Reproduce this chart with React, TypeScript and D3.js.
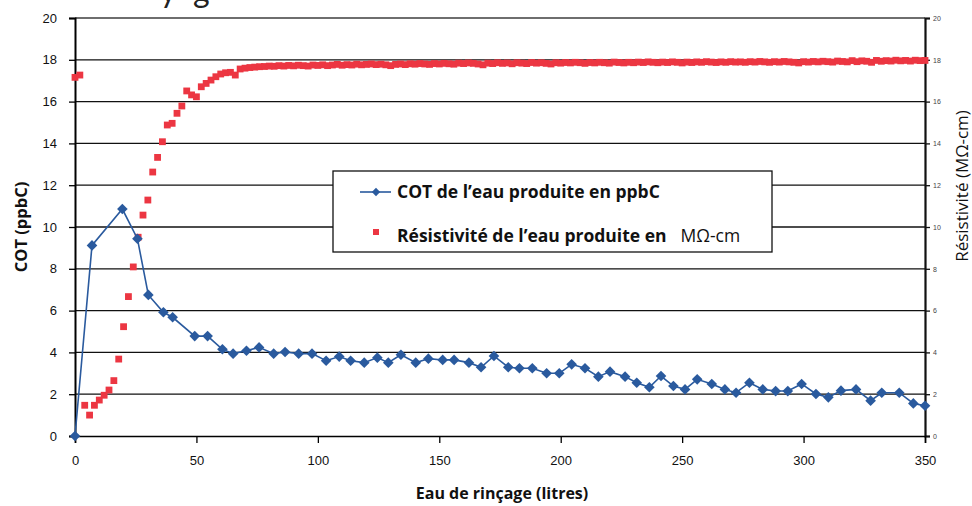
import { useEffect, useRef } from 'react';
import * as d3 from 'd3';

// COT (ppbC) de l'eau produite
const cotVolumes = [
  0, 7, 19.5, 25.7, 30.2, 36.4, 40.2, 49.3, 54.6, 60.7,
  65.1, 70.6, 75.8, 81.8, 86.5, 92.1, 97.6, 103.4, 108.8, 113.5,
  119.1, 124.5, 129.0, 134.2, 140.3, 145.5, 151.4, 156.1, 162.2, 167.2,
  172.5, 178.4, 183.0, 188.3, 194.2, 199.4, 204.5, 210.0, 215.5, 220.3,
  226.5, 231.3, 236.5, 241.3, 246.4, 251.2, 256.2, 262.2, 267.6, 272.2,
  277.7, 283.2, 288.5, 293.5, 299.2, 305.1, 310.2, 315.4, 321.6, 327.6,
  332.2, 339.4, 345.2, 350,
];
const cotValues = [
  0, 9.12, 10.86, 9.44, 6.75, 5.92, 5.68, 4.78, 4.78, 4.15,
  3.94, 4.08, 4.24, 3.94, 4.02, 3.94, 3.94, 3.6, 3.8, 3.6,
  3.51, 3.75, 3.51, 3.89, 3.51, 3.7, 3.64, 3.64, 3.51, 3.29,
  3.83, 3.29, 3.24, 3.24, 3.0, 3.0, 3.43, 3.24, 2.84, 3.08,
  2.84, 2.55, 2.33, 2.87, 2.39, 2.23, 2.71, 2.49, 2.23, 2.07,
  2.55, 2.23, 2.15, 2.15, 2.49, 2.01, 1.85, 2.17, 2.23, 1.69,
  2.07, 2.07, 1.56, 1.45,
];

// Résistivité (MΩ-cm), un relevé tous les 2 litres de 0 à 350
const resVolumes = d3.range(0, 351, 2);
const resValues = [
  17.16, 17.27, 1.47, 1.0, 1.47, 1.72, 1.95, 2.2, 2.65, 3.68,
  5.23, 6.67, 8.09, 9.51, 10.57, 11.29, 12.63, 13.33, 14.08, 14.88,
  14.96, 15.44, 15.79, 16.51, 16.32, 16.23, 16.71, 16.87, 17.03, 17.19,
  17.32, 17.38, 17.4, 17.27, 17.56, 17.6, 17.63, 17.65, 17.67, 17.68,
  17.7, 17.69, 17.72, 17.7, 17.73, 17.71, 17.74, 17.72, 17.7, 17.75,
  17.73, 17.76, 17.72, 17.75, 17.78, 17.74, 17.77, 17.75, 17.79, 17.76,
  17.78, 17.8, 17.77, 17.79, 17.76, 17.72, 17.78, 17.8, 17.77, 17.81,
  17.79, 17.82, 17.8, 17.78, 17.82, 17.8, 17.83, 17.81, 17.79, 17.84,
  17.82, 17.85, 17.83, 17.8, 17.76, 17.84, 17.82, 17.86, 17.83, 17.85,
  17.81, 17.86, 17.84, 17.82, 17.87, 17.84, 17.86, 17.83, 17.8, 17.86,
  17.84, 17.87, 17.85, 17.88, 17.86, 17.83, 17.87, 17.85, 17.88, 17.86,
  17.84, 17.89, 17.87, 17.85, 17.88, 17.86, 17.89, 17.87, 17.9, 17.88,
  17.86, 17.89, 17.87, 17.9, 17.88, 17.85, 17.89, 17.87, 17.9, 17.88,
  17.91, 17.89, 17.87, 17.9, 17.88, 17.91, 17.89, 17.9, 17.88, 17.91,
  17.89, 17.92, 17.9, 17.88, 17.91, 17.89, 17.92, 17.9, 17.88, 17.85,
  17.91, 17.89, 17.92, 17.9, 17.93, 17.91, 17.89, 17.94, 17.92, 17.9,
  17.96, 17.91, 17.95, 17.93, 17.88, 17.97, 17.93, 17.96, 17.94, 17.98,
  17.95, 17.97, 17.94, 17.98, 17.96, 17.97,
];

const xTicks = [0, 50, 100, 150, 200, 250, 300, 350];
const yTicks = [0, 2, 4, 6, 8, 10, 12, 14, 16, 18, 20];

const legendCot = 'COT de l’eau produite en ppbC';
const legendRes = 'Résistivité de l’eau produite en';
const legendResUnit = 'MΩ-cm';

export default function App() {
  const chartRef = useRef<SVGSVGElement>(null);

  useEffect(() => {
    const width = 972;
    const height = 506;
    const left = 75, right = 925, top = 18, bottom = 436;
    const blue = '#2a5a9e';
    const red = '#ec3642';
    const sans = '"Open Sans", Lato, sans-serif';
    const arial = '"Liberation Sans", Arial, sans-serif';

    const svg = d3.select(chartRef.current);
    svg.selectAll('*').remove();
    svg.attr('width', width).attr('height', height);

    svg.append('rect').attr('width', width).attr('height', height).attr('fill', '#fff');

    const x = d3.scaleLinear().domain([0, 350]).range([left, right]);
    const yL = d3.scaleLinear().domain([0, 20]).range([bottom, top]);
    const yR = d3.scaleLinear().domain([0, 20]).range([bottom, top]);

    // bout du titre coupé en haut
    svg.append('text').attr('x', 160).attr('y', 2).attr('font-family', 'Lato, sans-serif')
      .attr('font-size', 32).attr('fill', '#222').text('y');
    svg.append('text').attr('x', 193).attr('y', 2).attr('font-family', 'Lato, sans-serif')
      .attr('font-size', 32).attr('fill', '#222').text('g');

    // quadrillage
    svg.append('g').selectAll('line')
      .data(yTicks.filter(d => d > 0))
      .enter().append('line')
      .attr('x1', left).attr('x2', right)
      .attr('y1', d => yL(d)).attr('y2', d => yL(d))
      .attr('stroke', d => (d === 20 ? '#6e6e6e' : '#111'))
      .attr('stroke-width', d => (d === 20 ? 2 : 1.3));

    // axe gauche
    const gl = svg.append('g')
      .attr('transform', `translate(${left},0)`)
      .call(d3.axisLeft(yL).tickValues(yTicks).tickSize(6).tickPadding(12).tickFormat(d3.format('d')));
    gl.select('.domain').attr('stroke', '#000').attr('stroke-width', 2);
    gl.selectAll('.tick line').attr('stroke', '#000').attr('stroke-width', 1.3);
    gl.selectAll('.tick text').attr('font-family', arial).attr('font-size', 13).attr('fill', '#111');

    // axe droit
    const gr = svg.append('g')
      .attr('transform', `translate(${right},0)`)
      .call(d3.axisRight(yR).tickValues(yTicks).tickSize(5).tickPadding(3).tickFormat(d3.format('d')));
    gr.select('.domain').attr('stroke', '#111').attr('stroke-width', 2.2);
    gr.selectAll('.tick line').attr('stroke', '#111').attr('stroke-width', 1.3);
    gr.selectAll('.tick text').attr('font-family', arial).attr('font-size', 7).attr('fill', '#444');

    // axe du bas
    const gb = svg.append('g')
      .attr('transform', `translate(0,${bottom})`)
      .call(d3.axisBottom(x).tickValues(xTicks).tickSize(7).tickPadding(13).tickFormat(d3.format('d')));
    gb.select('.domain').attr('stroke', '#000').attr('stroke-width', 1.6);
    gb.selectAll('.tick line').attr('stroke', '#000').attr('stroke-width', 1.3);
    gb.selectAll('.tick text').attr('font-family', arial).attr('font-size', 13).attr('fill', '#111');

    // résistivité : carrés rouges
    const sq = 6.8;
    svg.append('g').selectAll('rect')
      .data(resValues.map((v, i) => ({ vol: resVolumes[i], v })))
      .enter().append('rect')
      .attr('x', d => x(d.vol) - sq / 2)
      .attr('y', d => yR(d.v) - sq / 2)
      .attr('width', sq).attr('height', sq)
      .attr('fill', red);

    // COT : ligne et losanges bleus
    const cotData = cotValues.map((v, i) => ({ vol: cotVolumes[i], v }));
    const line = d3.line<{ vol: number; v: number }>().x(d => x(d.vol)).y(d => yL(d.v));
    svg.append('path').datum(cotData)
      .attr('d', line).attr('fill', 'none').attr('stroke', blue).attr('stroke-width', 1.6);
    const diamond = d3.symbol().type(d3.symbolDiamond2).size(72);
    svg.append('g').selectAll('path')
      .data(cotData)
      .enter().append('path')
      .attr('d', diamond)
      .attr('transform', d => `translate(${x(d.vol)},${yL(d.v)})`)
      .attr('fill', blue);

    // titres des axes
    svg.append('text')
      .attr('transform', `translate(27,${(top + bottom) / 2}) rotate(-90)`)
      .attr('text-anchor', 'middle').attr('font-family', sans).attr('font-weight', 700)
      .attr('font-size', 16.5).attr('fill', '#111').text('COT (ppbC)');
    svg.append('text')
      .attr('x', (left + right) / 2 + 2).attr('y', 499)
      .attr('text-anchor', 'middle').attr('font-family', sans).attr('font-weight', 700)
      .attr('font-size', 16).attr('fill', '#111').text('Eau de rinçage (litres)');
    svg.append('text')
      .attr('transform', 'translate(968,186) rotate(-90)')
      .attr('text-anchor', 'middle').attr('font-family', sans)
      .attr('font-size', 17).attr('fill', '#111').text('Résistivité (MΩ-cm)');

    // légende
    const lg = svg.append('g');
    lg.append('rect').attr('x', 333).attr('y', 171).attr('width', 439).attr('height', 81)
      .attr('fill', '#fff').attr('stroke', '#111').attr('stroke-width', 1.3);
    lg.append('line').attr('x1', 360).attr('x2', 391).attr('y1', 192).attr('y2', 192)
      .attr('stroke', blue).attr('stroke-width', 1.6);
    lg.append('path').attr('d', d3.symbol().type(d3.symbolDiamond2).size(44)())
      .attr('transform', 'translate(376,192)').attr('fill', blue);
    lg.append('text').attr('x', 397).attr('y', 198).attr('font-family', sans)
      .attr('font-weight', 700).attr('font-size', 17.5).attr('fill', '#111').text(legendCot);
    lg.append('rect').attr('x', 376 - 3).attr('y', 232 - 3).attr('width', 6).attr('height', 6)
      .attr('fill', red);
    const t2 = lg.append('text').attr('x', 397).attr('y', 242).attr('font-family', sans)
      .attr('font-size', 17.5).attr('fill', '#111');
    t2.append('tspan').attr('font-weight', 700).text(legendRes);
    t2.append('tspan').attr('dx', 14).text(legendResUnit);
  }, []);

  return (
    <svg ref={chartRef} style={{ position: 'absolute', left: 0, top: 0, display: 'block' }} />
  );
}
